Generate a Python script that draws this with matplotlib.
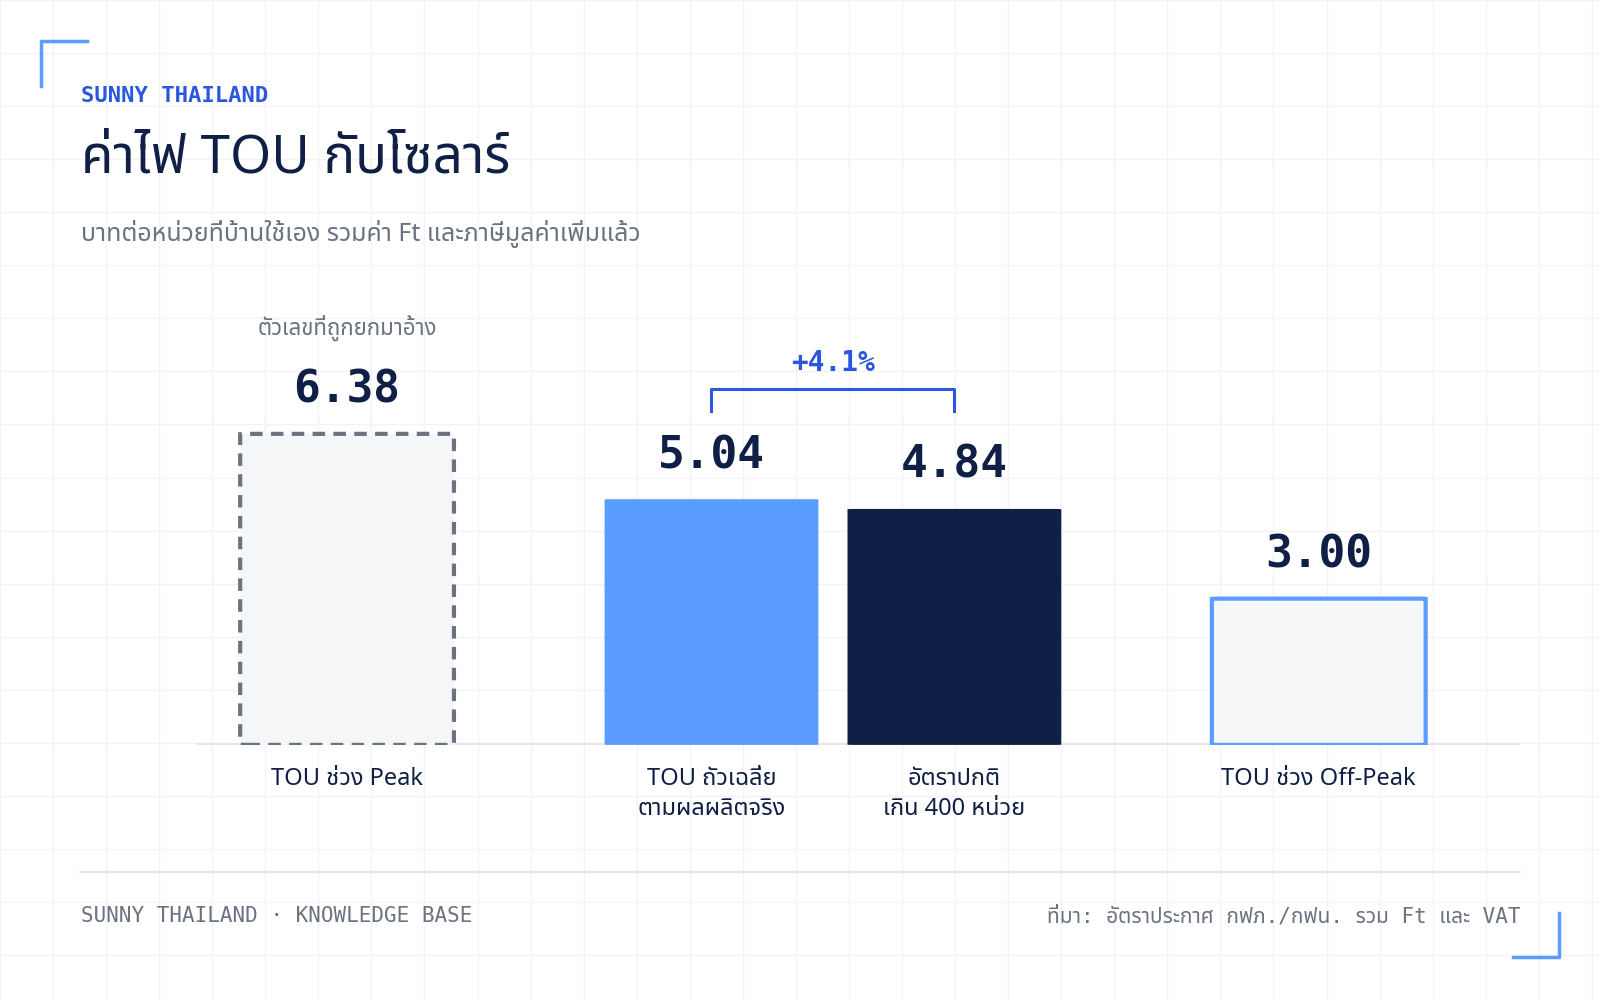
import matplotlib
matplotlib.use("Agg")
import matplotlib.pyplot as plt
from matplotlib.patches import FancyBboxPatch
from matplotlib import font_manager as fm

names = sorted({f.name for f in fm.fontManager.ttflist})
print(names)

categories = ["TOU ช่วง Peak", "TOU ถัวเฉลี่ย\nตามผลผลิตจริง", "อัตราปกติ\nเกิน 400 หน่วย", "TOU ช่วง Off-Peak"]
values = [6.38, 5.04, 4.84, 3.00]
labels = ["6.38", "5.04", "4.84", "3.00"]
positions = [0, 1.5, 2.5, 4]

TH = ['Noto Sans Thai', 'Noto Sans Thai Looped', 'Loma', 'Garuda', 'Noto Sans', 'DejaVu Sans']
MONO = ['DejaVu Sans Mono', 'Noto Sans Thai', 'DejaVu Sans']
plt.rcParams['font.family'] = TH

W, H = 1568, 980
fig = plt.figure(figsize=(16, 10), dpi=100)
fig.patch.set_facecolor('white')
def fx(x): return x / W
def fy(y): return 1 - y / H

bg = fig.add_axes([0, 0, 1, 1]); bg.set_xlim(0, W); bg.set_ylim(H, 0); bg.axis('off')
for gx in range(0, W, 52):
    bg.axvline(gx, color='#f1f3f6', lw=1, zorder=0)
for gy in range(0, H, 52):
    bg.axhline(gy, color='#f1f3f6', lw=1, zorder=0)
blue = '#2a56e0'
bg.plot([40, 40, 85], [84, 40, 40], color='#5b9cff', lw=2.5)
bg.plot([1483, 1528, 1528], [938, 938, 895], color='#5b9cff', lw=2.5)
bg.plot([78, 1490], [855, 855], color='#e3e6ea', lw=1.5)

fig.text(fx(79), fy(94), "SUNNY THAILAND", family=MONO, fontsize=16, color=blue, weight='bold', va='center')
fig.text(fx(79), fy(156), "ค่าไฟ TOU กับโซลาร์", fontsize=38, color='#0f1f45', weight='bold', va='center')
fig.text(fx(79), fy(229), "บาทต่อหน่วยที่บ้านใช้เอง รวมค่า Ft และภาษีมูลค่าเพิ่มแล้ว", fontsize=18, color='#6b7280', va='center')
fig.text(fx(79), fy(898), "SUNNY THAILAND · KNOWLEDGE BASE", family=MONO, fontsize=15, color='#6b7280', va='center')
fig.text(fx(1490), fy(898), "ที่มา: อัตราประกาศ กฟภ./กฟน. รวม Ft และ VAT", family=MONO, fontsize=15, color='#6b7280', va='center', ha='right')

ax = fig.add_axes([fx(193), fy(730), 1297 / W, 430 / H])
ax.set_xlim(-0.618, 4.83); ax.set_ylim(0, 9); ax.axis('off')
ax.axhline(0, color='#e3e6ea', lw=3, zorder=1)
bw = 0.88
styles = [dict(fc='#f5f6f8', ec='#6b7280', ls=(0, (3, 2)), lw=3),
          dict(fc='#5b9cff', ec='#5b9cff', ls='-', lw=0),
          dict(fc='#0f1f45', ec='#0f1f45', ls='-', lw=0),
          dict(fc='#f5f6f8', ec='#5b9cff', ls='-', lw=3)]
for p, v, lab, cat, s in zip(positions, values, labels, categories, styles):
    ax.add_patch(FancyBboxPatch((p - bw / 2, 0), bw, v, boxstyle="round,pad=0,rounding_size=0.03",
                                mutation_aspect=1/ (238/47.8), facecolor=s['fc'], edgecolor=s['ec'],
                                linestyle=s['ls'], linewidth=s['lw'], zorder=2))
    ax.text(p, v + 0.45, lab, family=MONO, fontsize=32, weight='bold', color='#0f1f45', ha='center', va='bottom')
    ax.text(p, -0.45, cat, fontsize=17, color='#0f1f45', ha='center', va='top', weight='medium', linespacing=1.35)
ax.text(positions[0], values[0] + 1.9, "ตัวเลขที่ถูกยกมาอ้าง", fontsize=16, color='#6b7280', weight='bold', ha='center', va='bottom')
yb = 7.3
ax.plot([positions[1], positions[1], positions[2], positions[2]], [yb - 0.45, yb, yb, yb - 0.45], color=blue, lw=2.2)
pct = (values[1] - values[2]) / values[2] * 100
ax.text((positions[1] + positions[2]) / 2, yb + 0.25, f"+{pct:.1f}%", family=MONO, fontsize=20, weight='bold', color=blue, ha='center', va='bottom')

fig.savefig("out.png", dpi=100)
